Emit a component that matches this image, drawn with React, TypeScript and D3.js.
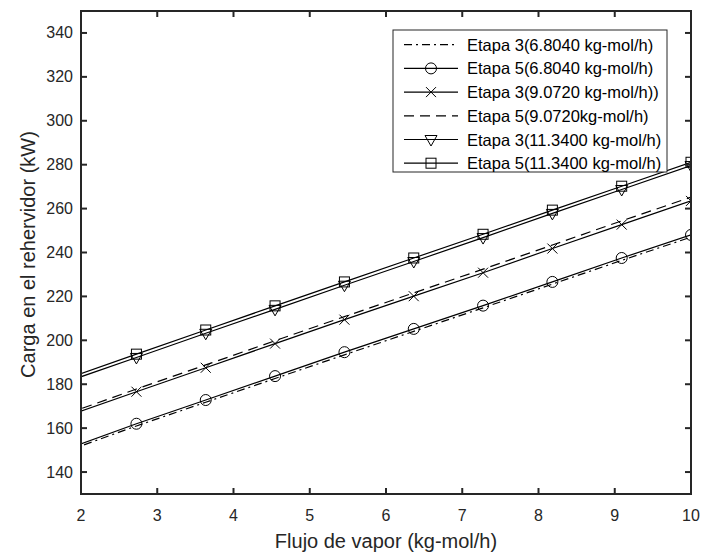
import * as d3 from "d3";

const flujo = [1.818, 2.727, 3.636, 4.545, 5.455, 6.364, 7.273, 8.182, 9.091, 10];

const etapa3_6804 = [149.6, 161, 171.8, 182.6, 193.4, 204.1, 214.8, 225.6, 236.4, 247];
const etapa5_6804 = [150.5, 162, 172.8, 183.7, 194.6, 205.2, 215.8, 226.6, 237.5, 248];
const etapa3_9072 = [165.5, 176.6, 187.5, 198.5, 209.4, 220.1, 230.8, 241.8, 252.7, 263.5];
const etapa5_9072 = [166.6, 177.8, 188.8, 199.8, 210.8, 221.6, 232.4, 243.4, 254.4, 265.2];
const etapa3_1134 = [181.2, 192.2, 203.2, 214.1, 225.1, 235.9, 246.8, 257.8, 268.7, 279.6];
const etapa5_1134 = [182.6, 193.7, 204.7, 215.7, 226.6, 237.5, 248.3, 259.3, 270.2, 281.1];

const xTicks = [2, 3, 4, 5, 6, 7, 8, 9, 10];
const yTicks = [140, 160, 180, 200, 220, 240, 260, 280, 300, 320, 340];

type Marker = "none" | "circle" | "x" | "tri" | "square";

const series: { label: string; values: number[]; dash: string; marker: Marker }[] = [
  { label: "Etapa 3(6.8040 kg-mol/h)", values: etapa3_6804, dash: "8,4,2,4", marker: "none" },
  { label: "Etapa 5(6.8040 kg-mol/h)", values: etapa5_6804, dash: "", marker: "circle" },
  { label: "Etapa 3(9.0720 kg-mol/h))", values: etapa3_9072, dash: "", marker: "x" },
  { label: "Etapa 5(9.0720kg-mol/h)", values: etapa5_9072, dash: "10,6", marker: "none" },
  { label: "Etapa 3(11.3400 kg-mol/h)", values: etapa3_1134, dash: "", marker: "tri" },
  { label: "Etapa 5(11.3400 kg-mol/h)", values: etapa5_1134, dash: "", marker: "square" },
];

const W = 702;
const H = 555;
const left = 81;
const right = 691;
const top = 11;
const bottom = 494;
const ink = "#262626";
const font = "Liberation Sans, Arial, sans-serif";

function MarkerShape({ kind, x, y }: { kind: Marker; x: number; y: number }) {
  const common = { fill: "none", stroke: "#000", strokeWidth: 1 };
  if (kind === "circle") return <circle cx={x} cy={y} r={5.5} {...common} />;
  if (kind === "square") return <rect x={x - 5} y={y - 5} width={10} height={10} {...common} />;
  if (kind === "x")
    return <path d={`M${x - 5},${y - 5}L${x + 5},${y + 5}M${x - 5},${y + 5}L${x + 5},${y - 5}`} {...common} />;
  if (kind === "tri")
    return <path d={`M${x - 6},${y - 4}L${x + 6},${y - 4}L${x},${y + 6.5}Z`} {...common} />;
  return null;
}

export default function App() {
  const x = d3.scaleLinear().domain([2, 10]).range([left, right]);
  const y = d3.scaleLinear().domain([130, 350]).range([bottom, top]);

  const line = d3
    .line<number>()
    .x((_, i) => x(flujo[i]))
    .y((d) => y(d));

  const legX = 393;
  const legY = 30;
  const legW = 274;
  const legH = 142;
  const rowH = 23.7;

  return (
    <svg width={W} height={H} style={{ position: "absolute", left: 0, top: 0, background: "#fff" }}>
      <defs>
        <clipPath id="plot">
          <rect x={left} y={top} width={right - left} height={bottom - top} />
        </clipPath>
      </defs>
      <rect x={0} y={0} width={W} height={H} fill="#fff" />

      <g clipPath="url(#plot)">
        {series.map((s) => (
          <g key={s.label}>
            <path d={line(s.values)!} fill="none" stroke="#000" strokeWidth={1.2} strokeDasharray={s.dash || undefined} />
            {s.values.map((v, i) => (
              <MarkerShape key={i} kind={s.marker} x={x(flujo[i])} y={y(v)} />
            ))}
          </g>
        ))}
      </g>

      {/* axes box */}
      <rect x={left} y={top} width={right - left} height={bottom - top} fill="none" stroke={ink} strokeWidth={2} />
      {xTicks.map((t) => (
        <g key={t}>
          <line x1={x(t)} x2={x(t)} y1={bottom} y2={bottom - 6} stroke={ink} strokeWidth={2} />
          <line x1={x(t)} x2={x(t)} y1={top} y2={top + 6} stroke={ink} strokeWidth={2} />
          <text x={x(t)} y={521} textAnchor="middle" fontFamily={font} fontSize={16} fill={ink}>
            {t}
          </text>
        </g>
      ))}
      {yTicks.map((t) => (
        <g key={t}>
          <line x1={left} x2={left + 6} y1={y(t)} y2={y(t)} stroke={ink} strokeWidth={2} />
          <line x1={right} x2={right - 6} y1={y(t)} y2={y(t)} stroke={ink} strokeWidth={2} />
          <text x={73} y={y(t) + 5.5} textAnchor="end" fontFamily={font} fontSize={16} fill={ink}>
            {t}
          </text>
        </g>
      ))}

      <text x={(left + right) / 2} y={548} textAnchor="middle" fontFamily={font} fontSize={20} fill={ink}>
        Flujo de vapor (kg-mol/h)
      </text>
      <text
        transform={`translate(35,${(top + bottom) / 2 + 2}) rotate(-90)`}
        textAnchor="middle"
        fontFamily={font}
        fontSize={20}
        fill={ink}
      >
        Carga en el rehervidor (kW)
      </text>

      {/* legend */}
      <rect x={legX} y={legY} width={legW} height={legH} fill="#fff" stroke={ink} strokeWidth={1} />
      {series.map((s, i) => {
        const cy = legY + 14.7 + i * rowH;
        return (
          <g key={s.label}>
            <line x1={404} x2={458} y1={cy} y2={cy} stroke="#000" strokeWidth={1.2} strokeDasharray={s.dash || undefined} />
            <MarkerShape kind={s.marker} x={431} y={cy} />
            <text x={467} y={cy + 6} fontFamily={font} fontSize={16.5} fill="#000">
              {s.label}
            </text>
          </g>
        );
      })}
    </svg>
  );
}
